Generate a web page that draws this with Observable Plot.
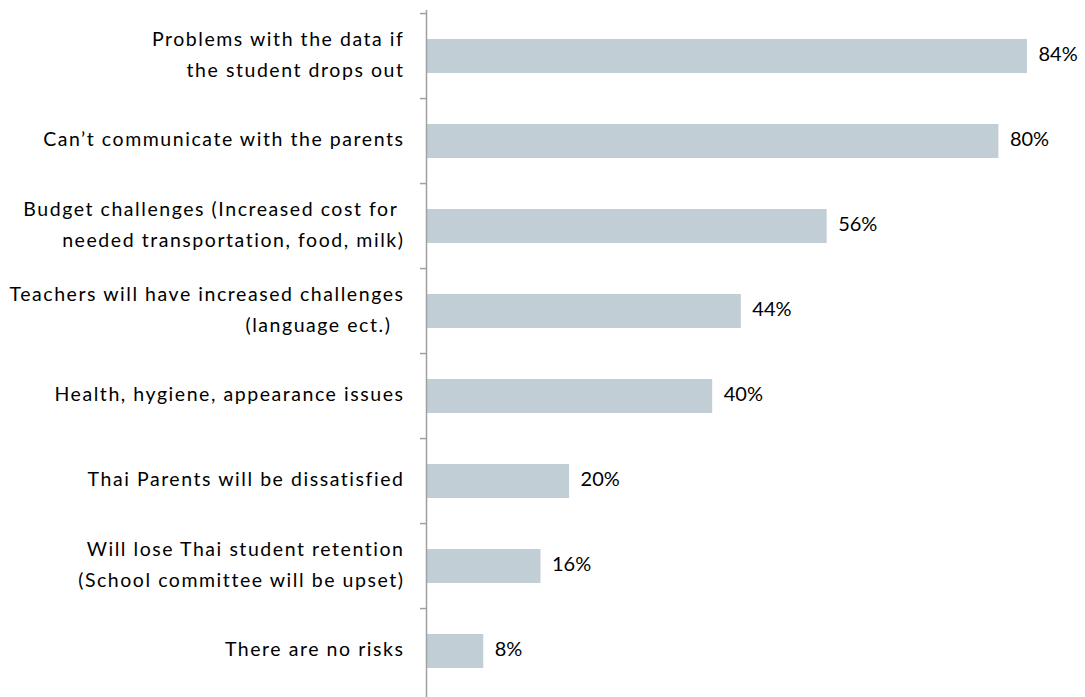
<!DOCTYPE html>
<html>
<head>
<meta charset="utf-8">
<script src="https://cdn.jsdelivr.net/npm/d3@7"></script>
<script src="https://cdn.jsdelivr.net/npm/@observablehq/plot@0.6"></script>
<style>
  html, body { margin: 0; padding: 0; background: #ffffff; }
  #chart { width: 1085px; height: 697px; }
  .cat-labels text { letter-spacing: 1.55px; }
</style>
</head>
<body>
<div id="chart"></div>
<script>
const categories = [
  "Problems with the data if\nthe student drops out",
  "Can’t communicate with the parents",
  "Budget challenges (Increased cost for \nneeded transportation, food, milk)",
  "Teachers will have increased challenges\n(language ect.)  ",
  "Health, hygiene, appearance issues",
  "Thai Parents will be dissatisfied",
  "Will lose Thai student retention\n(School committee will be upset)",
  "There are no risks"
];
const values = [84, 80, 56, 44, 40, 20, 16, 8];
const valueLabels = ["84%", "80%", "56%", "44%", "40%", "20%", "16%", "8%"];

const data = categories.map((c, i) => ({category: c, value: values[i], label: valueLabels[i]}));

const W = 1085, H = 697, mTop = 10, mBottom = 0;
const step = (H - mTop - mBottom) / categories.length;

const chart = Plot.plot({
  width: W,
  height: H,
  marginTop: mTop,
  marginBottom: mBottom,
  marginLeft: 426,
  marginRight: 58,
  style: {fontFamily: "Lato, 'Liberation Sans', sans-serif", fontSize: "19.5px", color: "#000", background: "#fff"},
  x: {domain: [0, 84], axis: null},
  y: {domain: categories, paddingInner: 0.604, paddingOuter: 0.302, axis: null, label: null},
  marks: [
    Plot.barX(data, {x: "value", y: "category", fill: "#c2ced5", insetLeft: 1}),
    Plot.text(data, {x: "value", y: "category", text: "label", textAnchor: "start", dx: 11, dy: -2, fontSize: 20, fill: "#000"}),
    Plot.text(data, {x: 0, y: "category", text: "category", textAnchor: "end", dx: -22, dy: -5, fontSize: 19.5, lineHeight: 1.58, fill: "#000", className: "cat-labels"}),
    Plot.ruleX([0], {stroke: "#a0a0a0", strokeWidth: 1.5}),
    Plot.axisY({anchor: "left", tickSize: 6, tickFormat: () => "", label: null, dy: -step / 2, stroke: "#a0a0a0", strokeWidth: 1.5})
  ]
});
document.getElementById("chart").appendChild(chart);
</script>
</body>
</html>
